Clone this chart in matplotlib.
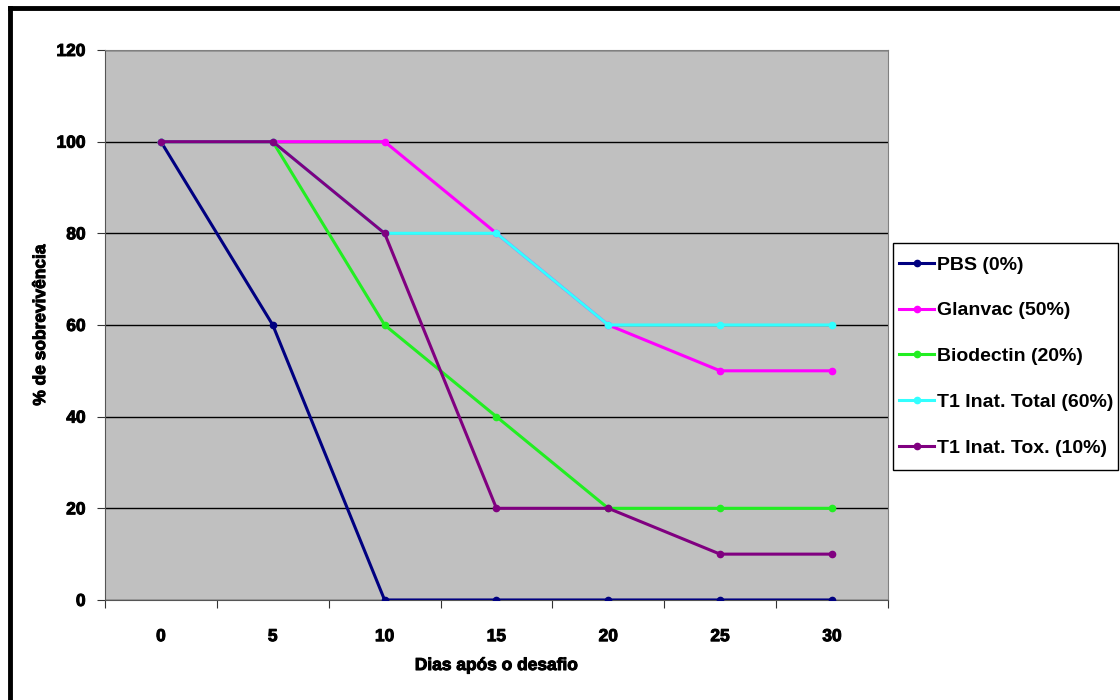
import matplotlib
matplotlib.use('Agg')
import matplotlib.pyplot as plt
import matplotlib.patheffects as pe
from matplotlib.lines import Line2D
from matplotlib.patches import Rectangle

dias = ['0', '5', '10', '15', '20', '25', '30']
pbs = [100, 60, 0, 0, 0, 0, 0]
glanvac = [100, 100, 100, 80, 60, 50, 50]
biodectin = [100, 100, 60, 40, 20, 20, 20]
t1_total = [100, 100, 80, 80, 60, 60, 60]
t1_tox = [100, 100, 80, 20, 20, 10, 10]

series = [
    ('PBS (0%)', pbs, '#000080'),
    ('Glanvac (50%)', glanvac, '#ff00ff'),
    ('Biodectin (20%)', biodectin, '#22ee22'),
    ('T1 Inat. Total (60%)', t1_total, '#33ffff'),
    ('T1 Inat. Tox. (10%)', t1_tox, '#800080'),
]

plt.rcParams['font.family'] = ['Liberation Sans', 'DejaVu Sans']
heavy = [pe.withStroke(linewidth=0.7, foreground='black')]

fig = plt.figure(figsize=(11.2, 7), dpi=100)
ax = fig.add_axes([0.09375, 0.1429, 0.699, 0.7857])
ax.set_facecolor('#c0c0c0')

x = list(range(len(dias)))
for name, vals, col in series:
    ax.plot(x, vals, color=col, lw=2.2, marker='o', ms=4.5, label=name, zorder=3)

ax.set_xlim(-0.5, len(dias) - 0.5)
ax.set_ylim(0, 120)
ax.set_yticks(range(0, 121, 20))
ax.yaxis.grid(True, color='black', lw=1)
ax.set_axisbelow(True)

ax.set_xticks([i - 0.5 for i in range(len(dias) + 1)])
ax.set_xticklabels([])
ax.set_xticks(x, minor=True)
ax.set_xticklabels(dias, minor=True)
ax.tick_params(axis='x', which='minor', length=0, pad=21)
ax.tick_params(axis='x', which='major', length=6, color='#333333')
ax.tick_params(axis='y', length=6, color='#333333', pad=8)

for lab in ax.get_xticklabels(minor=True) + ax.get_yticklabels():
    lab.set_fontweight('bold')
    lab.set_fontsize(12.5)
    lab.set_path_effects(heavy)

for s in ['top', 'right']:
    ax.spines[s].set_color('#808080')
for s in ['left', 'bottom']:
    ax.spines[s].set_color('#555555')

xl = ax.set_xlabel('Dias após o desafio', fontsize=12.5, fontweight='bold', labelpad=10)
yl = ax.set_ylabel('% de sobrevivência', fontsize=12.5, fontweight='bold', labelpad=6)
xl.set_path_effects(heavy)
yl.set_path_effects(heavy)

# legend box drawn separately so its size matches the Excel one
fig.add_artist(Rectangle((893 / 1120, 1 - 470 / 700), 225 / 1120, 227 / 700,
                         transform=fig.transFigure, facecolor='white',
                         edgecolor='black', lw=1, zorder=4))
leg = fig.legend(loc='upper left', bbox_to_anchor=(899 / 1120, 1 - 256 / 700),
                 frameon=False, fontsize=14,
                 handlelength=1.8, handletextpad=0.15, labelspacing=1.45,
                 borderpad=0, borderaxespad=0)
leg.set_zorder(5)
for t in leg.get_texts():
    t.set_fontweight('bold')

# outer frame (left and top edges visible)
fig.add_artist(Line2D([0.0085, 0.0085], [0, 0.988], color='black', lw=3.5, transform=fig.transFigure))
fig.add_artist(Line2D([0.0085, 1.0], [0.988, 0.988], color='black', lw=3.5, transform=fig.transFigure))

fig.savefig('out.png', dpi=100, facecolor='white')
